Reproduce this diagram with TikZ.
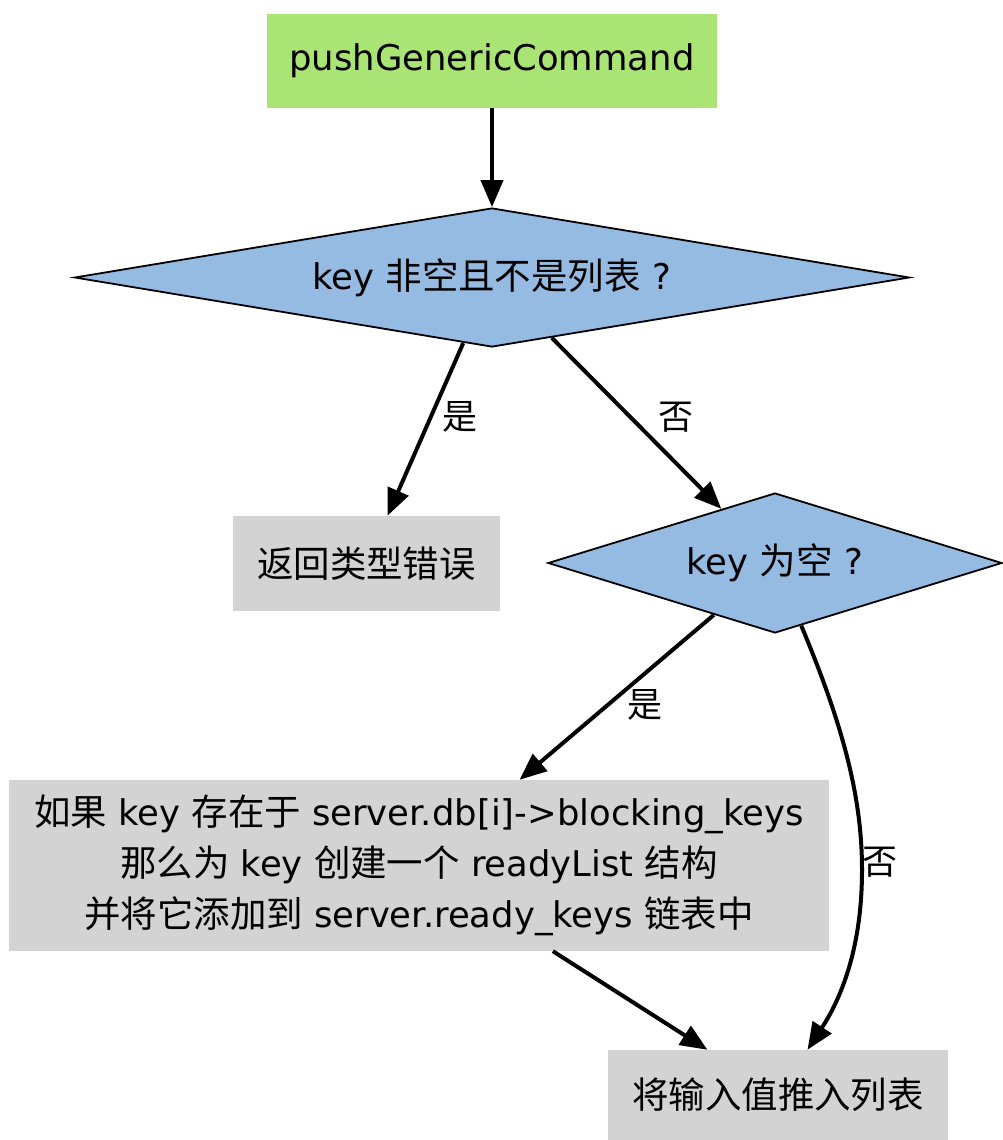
\documentclass[tikz,border=0pt]{standalone}
\usepackage{fontspec}
\setmainfont{DejaVu Sans}
\newfontfamily\cjk[Scale=1.03]{Noto Sans CJK SC}
\usetikzlibrary{shapes.geometric,arrows.meta}
\definecolor{startgreen}{HTML}{AAE474}
\definecolor{decblue}{HTML}{95BBE2}
\definecolor{boxgray}{HTML}{D3D3D3}
\tikzset{
  txt/.style={font=\fontsize{35.4}{51}\selectfont, inner sep=0pt, align=center},
  startbox/.style={txt, fill=startgreen, minimum width=450pt, minimum height=94pt},
  grbox/.style={txt, fill=boxgray},
  decision/.style={txt, diamond, draw=black, line width=1.8pt, fill=decblue},
  conn/.style={line width=4pt, -{Triangle[length=27pt,width=22pt]}},
  elabel/.style={font=\fontsize{34}{40}\selectfont\cjk, inner sep=0pt}
}
\begin{document}
\begin{tikzpicture}[x=1pt,y=-1pt]
\useasboundingbox (0,0) rectangle (1002,1140);
\node[startbox] (start) at (492,61) {pushGenericCommand};
\node[decision, aspect=6.007, minimum width=835pt, minimum height=139pt] (d1) at (492,277.5) {key {\cjk 非空且不是列表}\hspace{12pt}?};
\node[grbox, minimum width=267pt, minimum height=95pt] (err) at (366.5,563.5) {\cjk 返回类型错误};
\node[decision, aspect=3.243, minimum width=454pt, minimum height=140pt] (d2) at (775,563) {key {\cjk 为空}\hspace{12pt}?};
\node[grbox, minimum width=820pt, minimum height=171pt] (big) at (419,865.5)
  {{\cjk 如果} key {\cjk 存在于} server.db[i]->blocking\_keys\\
   {\cjk 那么为} key {\cjk 创建一个} readyList {\cjk 结构}\\
   {\cjk 并将它添加到} server.ready\_keys {\cjk 链表中}};
\node[grbox, minimum width=340pt, minimum height=90pt] (fin) at (778,1095) {\cjk 将输入值推入列表};

\draw[conn] (start) -- (d1);
\draw[conn] (d1) -- (err);
\draw[conn] (d1) -- (d2);
\draw[conn] (d2) -- (big);
\draw[conn] (d2) .. controls (845,730) and (862,800) .. (862,870) .. controls (862,950) and (840,1000) .. (fin);
\draw[conn] (big) -- (fin);

\node[elabel] (l1) at (460,417) {是};
\node[elabel] (l2) at (676,417) {否};
\node[elabel] (l3) at (645,705) {是};
\node[elabel] (l4) at (880,862) {否};
\end{tikzpicture}
\end{document}
